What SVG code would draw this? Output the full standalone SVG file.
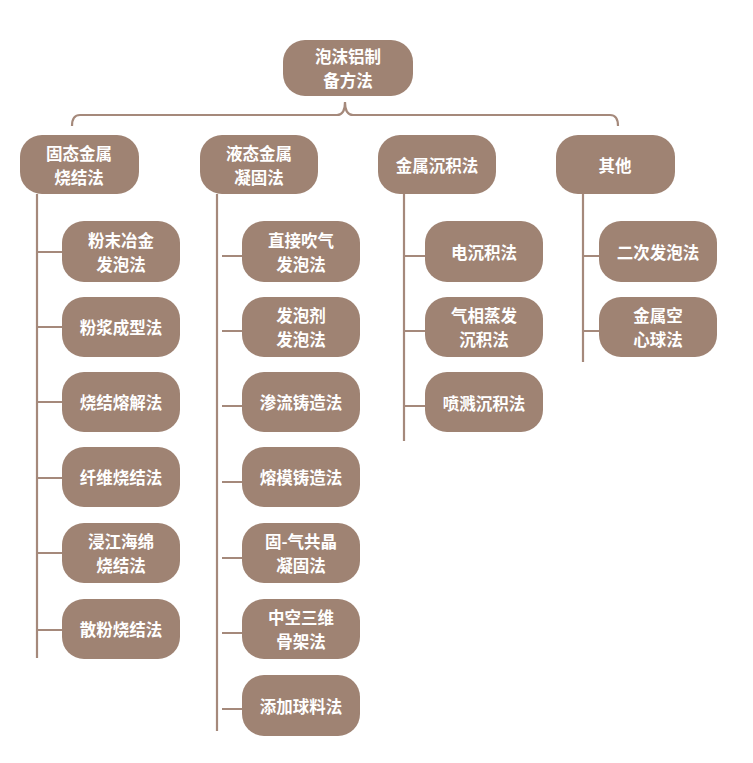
<svg xmlns="http://www.w3.org/2000/svg" width="753" height="763" viewBox="0 0 753 763">
<style>
.b{fill:#9f8373}
.t{fill:#ffffff;font-family:"Noto Sans CJK SC","Noto Sans",sans-serif;font-weight:bold;font-size:16.5px;text-anchor:middle;dominant-baseline:central}
.c{fill:none;stroke:#a5897b;stroke-width:2.2}
</style>
<rect width="753" height="763" fill="#ffffff"/>
<g id="connectors">
<path class="c" d="M72,126 Q72,115 80,115 L337,115 Q345,115 345,102 Q345,115 353,115 L610,115 Q618,115 618,126"/>
<path class="c" d="M37,194 V658 M37,252 H62 M37,327 H62 M37,402 H62 M37,478 H62 M37,553 H62 M37,630 H62"/>
<path class="c" d="M217,194 V731 M222,256 H242 M222,331 H242 M222,406 H242 M222,482 H242 M222,558 H242 M222,633 H242 M222,709 H242"/>
<path class="c" d="M404,194 V441 M404,256 H425 M404,331 H425 M404,406 H425"/>
<path class="c" d="M583,194 V362 M583,256 H599 M583,331 H599"/>
</g>
<g id="root"><rect class="b" x="283" y="40" width="130" height="56" rx="22"/><text class="t" x="348" y="56">泡沫铝制</text><text class="t" x="348" y="80">备方法</text></g>
<g id="n1"><rect class="b" x="20" y="135" width="119" height="59" rx="22"/><text class="t" x="79" y="152.5">固态金属</text><text class="t" x="79" y="176.5">烧结法</text></g>
<g id="n2"><rect class="b" x="200" y="135" width="118" height="59" rx="22"/><text class="t" x="259" y="152.5">液态金属</text><text class="t" x="259" y="176.5">凝固法</text></g>
<g id="n3"><rect class="b" x="378" y="135" width="118" height="59" rx="22"/><text class="t" x="437" y="164.5">金属沉积法</text></g>
<g id="n4"><rect class="b" x="556" y="135" width="119" height="59" rx="22"/><text class="t" x="615" y="164.5">其他</text></g>
<g id="a1"><rect class="b" x="62" y="221" width="118" height="61" rx="22"/><text class="t" x="121" y="239.5">粉末冶金</text><text class="t" x="121" y="263.5">发泡法</text></g>
<g id="a2"><rect class="b" x="62" y="297" width="118" height="60" rx="22"/><text class="t" x="121" y="327">粉浆成型法</text></g>
<g id="a3"><rect class="b" x="62" y="372" width="118" height="60" rx="22"/><text class="t" x="121" y="402">烧结熔解法</text></g>
<g id="a4"><rect class="b" x="62" y="447" width="118" height="60" rx="22"/><text class="t" x="121" y="477">纤维烧结法</text></g>
<g id="a5"><rect class="b" x="62" y="523" width="118" height="60" rx="22"/><text class="t" x="121" y="541">浸江海绵</text><text class="t" x="121" y="565">烧结法</text></g>
<g id="a6"><rect class="b" x="62" y="599" width="118" height="60" rx="22"/><text class="t" x="121" y="629">散粉烧结法</text></g>
<g id="b1"><rect class="b" x="242" y="221" width="118" height="61" rx="22"/><text class="t" x="301" y="239.5">直接吹气</text><text class="t" x="301" y="263.5">发泡法</text></g>
<g id="b2"><rect class="b" x="242" y="297" width="118" height="60" rx="22"/><text class="t" x="301" y="315">发泡剂</text><text class="t" x="301" y="339">发泡法</text></g>
<g id="b3"><rect class="b" x="242" y="372" width="118" height="60" rx="22"/><text class="t" x="301" y="402">渗流铸造法</text></g>
<g id="b4"><rect class="b" x="242" y="447" width="118" height="60" rx="22"/><text class="t" x="301" y="477">熔模铸造法</text></g>
<g id="b5"><rect class="b" x="242" y="523" width="118" height="60" rx="22"/><text class="t" x="301" y="541">固-气共晶</text><text class="t" x="301" y="565">凝固法</text></g>
<g id="b6"><rect class="b" x="242" y="599" width="118" height="60" rx="22"/><text class="t" x="301" y="617">中空三维</text><text class="t" x="301" y="641">骨架法</text></g>
<g id="b7"><rect class="b" x="242" y="675" width="118" height="61" rx="22"/><text class="t" x="301" y="706">添加球料法</text></g>
<g id="c1"><rect class="b" x="425" y="221" width="118" height="61" rx="22"/><text class="t" x="484" y="252">电沉积法</text></g>
<g id="c2"><rect class="b" x="425" y="297" width="118" height="60" rx="22"/><text class="t" x="484" y="315">气相蒸发</text><text class="t" x="484" y="339">沉积法</text></g>
<g id="c3"><rect class="b" x="425" y="372" width="118" height="60" rx="22"/><text class="t" x="484" y="403">喷溅沉积法</text></g>
<g id="d1"><rect class="b" x="599" y="221" width="118" height="61" rx="22"/><text class="t" x="658" y="252">二次发泡法</text></g>
<g id="d2"><rect class="b" x="599" y="297" width="118" height="60" rx="22"/><text class="t" x="658" y="315">金属空</text><text class="t" x="658" y="339">心球法</text></g>
</svg>
